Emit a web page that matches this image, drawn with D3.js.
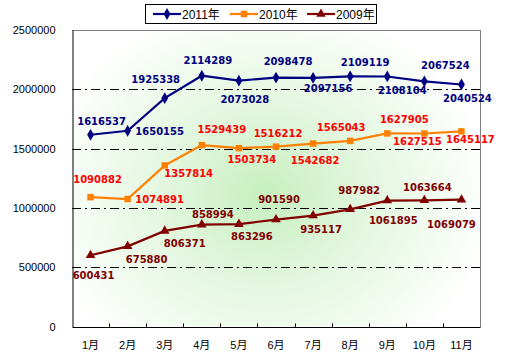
<!DOCTYPE html>
<html><head><meta charset="utf-8">
<script src="https://cdn.jsdelivr.net/npm/d3@7"></script>
<style>html,body{margin:0;padding:0;background:#fff;}svg{display:block;}</style>
</head><body><svg id="c" width="515" height="357"></svg>
<script>
const months = ["1月","2月","3月","4月","5月","6月","7月","8月","9月","10月","11月"];
const seriesNames = ["2011年","2010年","2009年"];
const v2011 = [1616537,1650155,1925338,2114289,2073028,2098478,2097156,2109119,2108104,2067524,2040524];
const v2010 = [1090882,1074891,1357814,1529439,1503734,1516212,1542682,1565043,1627905,1627515,1645117];
const v2009 = [600431,675880,806371,858994,863296,901590,935117,987982,1061895,1063664,1069079];
const yTicks = [0,500000,1000000,1500000,2000000,2500000];

// label offsets (dx, dy) relative to each point, in px
const off2011 = [[11,-10],[32,4],[-9,-15],[6,-12],[6,22],[12,-13],[15,14],[15,-10],[15,18],[21,-12],[6,18]];
const off2010 = [[7,-14],[32,4],[24,12],[20,-12],[13,15],[2,-10],[2,20],[-9,-10],[17,-10],[-7,12],[9,12]];
const off2009 = [[3,24],[19,17],[20,16],[11,-7],[13,16],[3,-17],[8,17],[9,-15],[6,23],[3,-9],[-10,28]];

const svg = d3.select("#c");
const L=72, R=480, T=30, B=326.5;
const x = d3.scaleBand().domain(months).range([L,R]);
const cx = m => x(m)+x.bandwidth()/2;
const y = d3.scaleLinear().domain([0,2500000]).range([B,T]);

const defs = svg.append("defs");
const rg = defs.append("radialGradient").attr("id","glow")
  .attr("gradientUnits","userSpaceOnUse").attr("cx",265).attr("cy",195).attr("r",230)
  .attr("gradientTransform","translate(265,195) scale(1,0.85) translate(-265,-195)");
rg.append("stop").attr("offset","0").attr("stop-color","#c6efbe");
rg.append("stop").attr("offset","0.45").attr("stop-color","#e3f7df");
rg.append("stop").attr("offset","1").attr("stop-color","#ffffff");

svg.append("rect").attr("x",0).attr("y",0).attr("width",515).attr("height",357).attr("fill","#fff");
svg.append("rect").attr("x",L).attr("y",T).attr("width",R-L).attr("height",B-T).attr("fill","url(#glow)");

// gridlines
svg.append("g").selectAll("line").data(yTicks.filter(d=>d>0 && d<2500000)).join("line")
  .attr("x1",L).attr("x2",R).attr("y1",d=>Math.round(y(d))+0.5).attr("y2",d=>Math.round(y(d))+0.5)
  .attr("stroke","#000").attr("stroke-width",1).attr("stroke-dasharray","9,4,2,4");

// frame: top and right gray
svg.append("line").attr("x1",L).attr("x2",R+0.5).attr("y1",T+0.5).attr("y2",T+0.5).attr("stroke","#808080");
svg.append("line").attr("x1",R+0.5).attr("x2",R+0.5).attr("y1",T).attr("y2",B+1).attr("stroke","#808080");

// y axis
const ya = d3.axisLeft(y).tickValues(yTicks).tickSize(0).tickPadding(17).tickFormat(d3.format("d"));
const gy = svg.append("g").attr("transform",`translate(${L+0.5},0)`).call(ya);
gy.select(".domain").attr("stroke","#000");
gy.selectAll("text").attr("font-family","'Liberation Sans','Noto Sans CJK SC',sans-serif").attr("font-size",11).attr("fill","#000");

// x axis
const xa = d3.axisBottom(x).tickSize(0).tickPadding(14);
const gx = svg.append("g").attr("transform",`translate(0,${B+0.5})`).call(xa);
gx.select(".domain").attr("stroke","#000");
gx.selectAll("text").attr("font-family","'Liberation Sans','Noto Sans CJK SC',sans-serif").attr("font-size",11).attr("fill","#000");
// ticks at band boundaries (pointing up)
svg.append("g").selectAll("line").data(months.slice(1)).join("line")
  .attr("x1",d=>Math.round(x(d))+0.5).attr("x2",d=>Math.round(x(d))+0.5)
  .attr("y1",B+0.5).attr("y2",B-3).attr("stroke","#000");

const series = [
  {name:seriesNames[0], vals:v2011, off:off2011, line:"#000080", lab:"#000080", marker:"diamond"},
  {name:seriesNames[1], vals:v2010, off:off2010, line:"#ff8000", lab:"#ff0000", marker:"square"},
  {name:seriesNames[2], vals:v2009, off:off2009, line:"#800000", lab:"#800000", marker:"triangle"}
];
const symType = {diamond:d3.symbolDiamond, square:d3.symbolSquare, triangle:d3.symbolTriangle};
const symSize = {diamond:40, square:42, triangle:40};

const lineGen = d3.line().x((d,i)=>cx(months[i])).y(d=>y(d));
series.slice().reverse().forEach(s=>{
  const g = svg.append("g");
  g.append("path").attr("d",lineGen(s.vals)).attr("fill","none").attr("stroke",s.line).attr("stroke-width",2.2);
  g.selectAll("path.m").data(s.vals).join("path").attr("class","m")
    .attr("d",d3.symbol().type(symType[s.marker]).size(symSize[s.marker]))
    .attr("transform",(d,i)=>`translate(${cx(months[i])},${y(d)})`).attr("fill",s.line);
});
series.forEach(s=>{
  svg.append("g").selectAll("text").data(s.vals).join("text")
    .attr("x",(d,i)=>cx(months[i])+s.off[i][0]).attr("y",(d,i)=>y(d)+s.off[i][1])
    .attr("text-anchor","middle").attr("font-family","'DejaVu Sans',sans-serif").attr("font-weight","bold")
    .attr("font-size",10).attr("fill",s.lab).text(d=>d);
});

// legend
const lg = svg.append("g");
lg.append("rect").attr("x",145.5).attr("y",4.5).attr("width",231).attr("height",19).attr("fill","#fff").attr("stroke","#000");
const lx = [153,230,307];
series.forEach((s,i)=>{
  lg.append("line").attr("x1",lx[i]).attr("x2",lx[i]+28).attr("y1",14).attr("y2",14).attr("stroke",s.line).attr("stroke-width",2.2);
  lg.append("path").attr("d",d3.symbol().type(symType[s.marker]).size(symSize[s.marker])).attr("transform",`translate(${lx[i]+14},14)`).attr("fill",s.line);
  lg.append("text").attr("x",lx[i]+29).attr("y",18.5).attr("font-family","'Liberation Sans','Noto Sans CJK SC',sans-serif").attr("font-size",12).attr("fill","#000").text(s.name);
});
</script></body></html>
